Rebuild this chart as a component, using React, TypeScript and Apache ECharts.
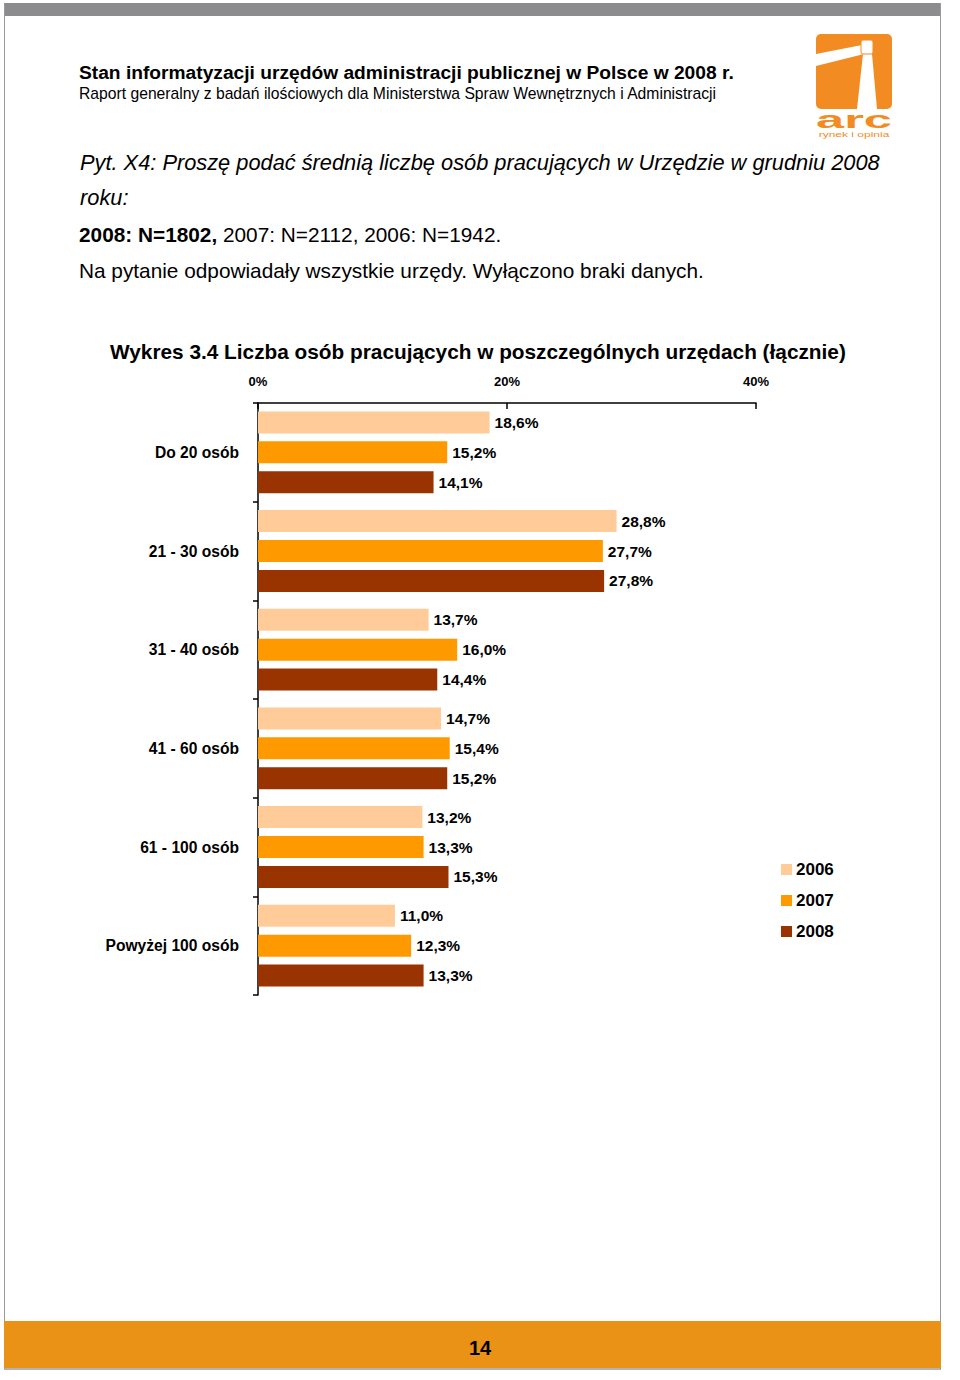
import React, { useEffect, useRef } from "react";
import * as echarts from "echarts";

const categories = ["Do 20 osób", "21 - 30 osób", "31 - 40 osób", "41 - 60 osób", "61 - 100 osób", "Powyżej 100 osób"];
const years = ["2006", "2007", "2008"];
const values2006 = [18.6, 28.8, 13.7, 14.7, 13.2, 11.0];
const values2007 = [15.2, 27.7, 16.0, 15.4, 13.3, 12.3];
const values2008 = [14.1, 27.8, 14.4, 15.2, 15.3, 13.3];
const xTicks = [0, 20, 40];

const colors = ["#FFCC99", "#FF9900", "#993300"];
const FONT = "'Liberation Sans', Arial, sans-serif";

function txt(x: number, y: number, text: string, font: string, extra: any = {}) {
  return {
    type: "text",
    x,
    y,
    scaleX: extra.scaleX || 1,
    style: {
      text,
      font,
      fill: extra.fill || "#000",
      textAlign: extra.align || "left",
      align: extra.align || "left",
      textVerticalAlign: "middle",
      verticalAlign: "middle",
      rich: extra.rich,
    },
  };
}

export default function App() {
  const ref = useRef<HTMLDivElement>(null);
  useEffect(() => {
    if (!ref.current) return;
    const chart = echarts.init(ref.current, null, { renderer: "svg" });
    const fmt = (p: any) => p.value.toFixed(1).replace(".", ",") + "%";
    const series = [values2006, values2007, values2008].map((vals, i) => ({
      name: years[i],
      type: "bar",
      data: vals,
      barWidth: 22,
      barGap: "36%",
      itemStyle: { color: colors[i] },
      label: {
        show: true,
        position: "right",
        distance: 5,
        formatter: fmt,
        fontFamily: FONT,
        fontWeight: "bold",
        fontSize: 15.5,
        color: "#000",
      },
    }));
    chart.setOption({
      animation: false,
      backgroundColor: "#fff",
      grid: { left: 258, top: 403, width: 498, height: 592, containLabel: false },
      xAxis: {
        type: "value",
        position: "top",
        min: xTicks[0],
        max: xTicks[xTicks.length - 1],
        interval: 20,
        splitLine: { show: false },
        axisLine: { show: true, lineStyle: { color: "#000", width: 1.5 } },
        axisTick: { show: true, inside: true, length: 6, lineStyle: { color: "#000", width: 1.5 } },
        axisLabel: {
          margin: 15,
          formatter: (v: number) => v + "%",
          fontFamily: FONT,
          fontWeight: "bold",
          fontSize: 13,
          color: "#000",
        },
      },
      yAxis: {
        type: "category",
        data: categories,
        inverse: true,
        axisLine: { show: true, lineStyle: { color: "#000", width: 1.5 } },
        axisTick: { show: true, length: 5, lineStyle: { color: "#000", width: 1.5 } },
        axisLabel: {
          margin: 19,
          fontFamily: FONT,
          fontWeight: "bold",
          fontSize: 15.6,
          color: "#000",
        },
      },
      legend: {
        orient: "vertical",
        left: 776,
        top: 856,
        data: years,
        itemWidth: 11,
        itemHeight: 11,
        itemGap: 14,
        icon: "rect",
        textStyle: { fontFamily: FONT, fontWeight: "bold", fontSize: 17, color: "#000", padding: [0, 0, 0, -1] },
      },
      series,
      graphic: [
        // page frame
        { type: "rect", shape: { x: 4, y: 3, width: 936, height: 13 }, style: { fill: "#8C8C8E" } },
        { type: "line", shape: { x1: 4.5, y1: 3, x2: 4.5, y2: 1369 }, style: { stroke: "#9a9a9a", lineWidth: 1 } },
        { type: "line", shape: { x1: 940.5, y1: 3, x2: 940.5, y2: 1369 }, style: { stroke: "#9a9a9a", lineWidth: 1 } },
        { type: "rect", shape: { x: 4, y: 1321, width: 937, height: 47 }, style: { fill: "#E99215" } },
        { type: "line", shape: { x1: 4, y1: 1369, x2: 941, y2: 1369 }, style: { stroke: "#9a9a9a", lineWidth: 1.5 } },
        txt(480, 1348, "14", `bold 20px ${FONT}`, { align: "center" }),
        // header
        txt(79, 72, "Stan informatyzacji urzędów administracji publicznej w Polsce w 2008 r.", `bold 19.2px ${FONT}`),
        txt(79, 93, "Raport generalny z badań ilościowych dla Ministerstwa Spraw Wewnętrznych i Administracji", `15.7px ${FONT}`),
        // logo
        { type: "rect", shape: { x: 816, y: 34, width: 76, height: 75, r: 5 }, style: { fill: "#F28C22" } },
        { type: "polygon", shape: { points: [[816, 54], [862, 45], [864, 54], [816, 66]] }, style: { fill: "#fff" } },
        { type: "polygon", shape: { points: [[863, 54], [872, 54], [877, 109], [857, 109]] }, style: { fill: "#fff" } },
        { type: "rect", shape: { x: 861, y: 40, width: 12, height: 14, r: 2 }, style: { fill: "#fff", stroke: "#F28C22", lineWidth: 1 } },
        txt(854, 120, "arc", `bold 23px ${FONT}`, { align: "center", fill: "#F28C22", scaleX: 2.2 }),
        txt(854, 134, "rynek i opinia", `7.5px ${FONT}`, { align: "center", fill: "#F28C22", scaleX: 1.6 }),
        // question
        txt(80, 162, "Pyt. X4: Proszę podać średnią liczbę osób pracujących w Urzędzie w grudniu 2008", `italic 21.8px ${FONT}`),
        txt(80, 197, "roku:", `italic 21.8px ${FONT}`),
        {
          type: "text",
          x: 79,
          y: 234,
          style: {
            text: "{b|2008: N=1802,} 2007: N=2112, 2006: N=1942.",
            font: `20.8px ${FONT}`,
            fill: "#000",
            textVerticalAlign: "middle",
            verticalAlign: "middle",
            rich: { b: { font: `bold 20.8px ${FONT}`, fill: "#000" } },
          },
        },
        txt(79, 270, "Na pytanie odpowiadały wszystkie urzędy. Wyłączono braki danych.", `20.8px ${FONT}`),
        txt(110, 351, "Wykres 3.4 Liczba osób pracujących w poszczególnych urzędach (łącznie)", `bold 20.8px ${FONT}`),
      ],
    });
    return () => chart.dispose();
  }, []);
  return <div ref={ref} style={{ position: "absolute", left: 0, top: 0, width: 960, height: 1380 }} />;
}
